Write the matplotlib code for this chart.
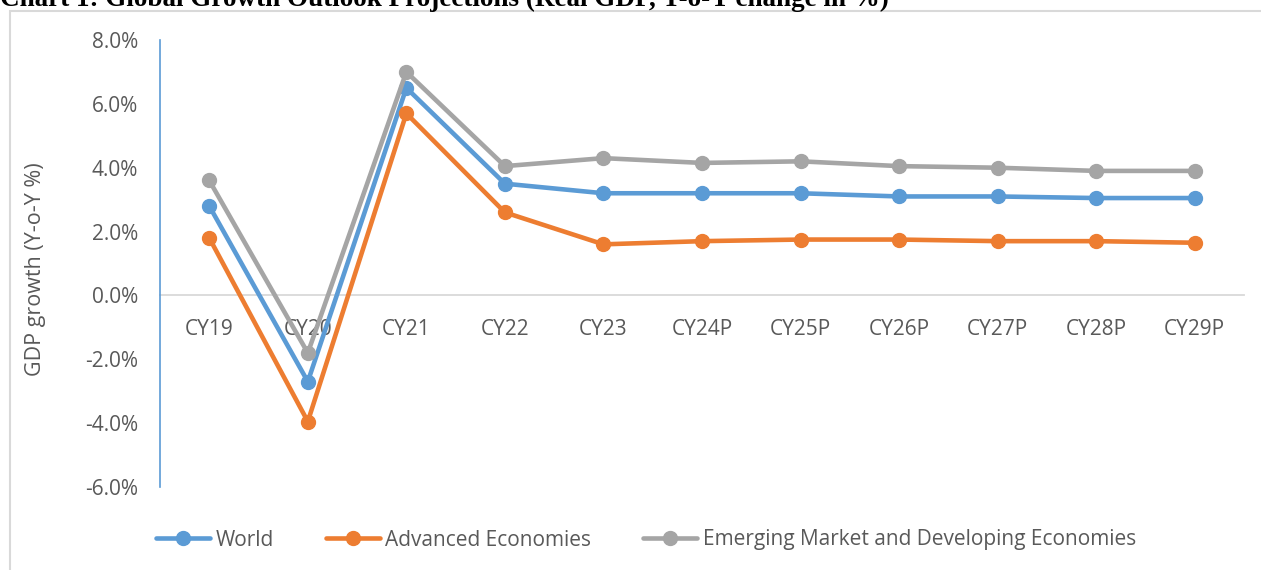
import matplotlib
matplotlib.use("Agg")
import matplotlib.pyplot as plt
from matplotlib.patches import Rectangle

categories = ["CY19", "CY20", "CY21", "CY22", "CY23", "CY24P", "CY25P",
              "CY26P", "CY27P", "CY28P", "CY29P"]
world = [2.8, -2.7, 6.5, 3.5, 3.2, 3.2, 3.2, 3.1, 3.1, 3.05, 3.05]
advanced = [1.8, -3.95, 5.7, 2.6, 1.6, 1.7, 1.75, 1.75, 1.7, 1.7, 1.65]
emerging = [3.6, -1.8, 7.0, 4.05, 4.3, 4.15, 4.2, 4.05, 4.0, 3.9, 3.9]
series_names = ["World", "Advanced Economies",
                "Emerging Market and Developing Economies"]
ytick_vals = [-6, -4, -2, 0, 2, 4, 6, 8]
ytick_labels = ["-6.0%", "-4.0%", "-2.0%", "0.0%", "2.0%", "4.0%", "6.0%", "8.0%"]
title = "Chart 1: Global Growth Outlook Projections (Real GDP, Y-o-Y change in %)"
ylabel = "GDP growth (Y-o-Y %)"

colors = ["#5B9BD5", "#ED7D31", "#A5A5A5"]
text_color = "#595959"
plt.rcParams["font.family"] = ["Open Sans", "DejaVu Sans"]

W, H = 1261, 570
fig = plt.figure(figsize=(W / 100, H / 100), dpi=100)

# outer chart frame
fig.patches.append(Rectangle((9.5 / W, -0.05), 1.1, 1 - 10.5 / H + 0.05,
                             transform=fig.transFigure, fill=False,
                             edgecolor="#D9D9D9", linewidth=1.5))

# title (clipped at top as in reference)
fig.text(0.0, 1 - 5.5 / H, title, family="Liberation Serif", weight="bold",
         fontsize=19.5, va="baseline", ha="left", color="black")

ax = fig.add_axes([160 / W, 1 - 487 / H, (1244 - 160) / W, (487 - 40) / H])
x = list(range(len(categories)))
for vals, name, c in zip([world, advanced, emerging], series_names, colors):
    ax.plot(x, vals, color=c, linewidth=3.3, marker="o", markersize=10,
            label=name, solid_capstyle="round", clip_on=False)

ax.set_xlim(-0.5, len(categories) - 0.5)
ax.set_ylim(-6, 8)
ax.set_yticks(ytick_vals)
ax.set_yticklabels(ytick_labels)
ax.set_xticks(x)
ax.set_xticklabels(categories)

for s in ["top", "right"]:
    ax.spines[s].set_visible(False)
ax.spines["left"].set_color("#5B9BD5")
ax.spines["left"].set_linewidth(1.2)
ax.spines["bottom"].set_position(("data", 0))
ax.spines["bottom"].set_color("#D9D9D9")
ax.spines["bottom"].set_linewidth(1.3)
ax.spines["bottom"].set_zorder(0.5)

ax.tick_params(axis="y", length=0, pad=16, labelsize=15, labelcolor=text_color)
ax.tick_params(axis="x", length=0, pad=17, labelsize=15, labelcolor=text_color)

fig.text(36 / W, 1 - 269 / H, ylabel, rotation=90, ha="center", va="center",
         fontsize=15.5, color=text_color)

leg = fig.legend(loc="center", bbox_to_anchor=(646 / W, 1 - 540 / H), ncol=3,
                 frameon=False, fontsize=15, handlelength=2.6,
                 handletextpad=0.25, columnspacing=2.5, labelcolor=text_color)

fig.savefig("out.png", dpi=100)
